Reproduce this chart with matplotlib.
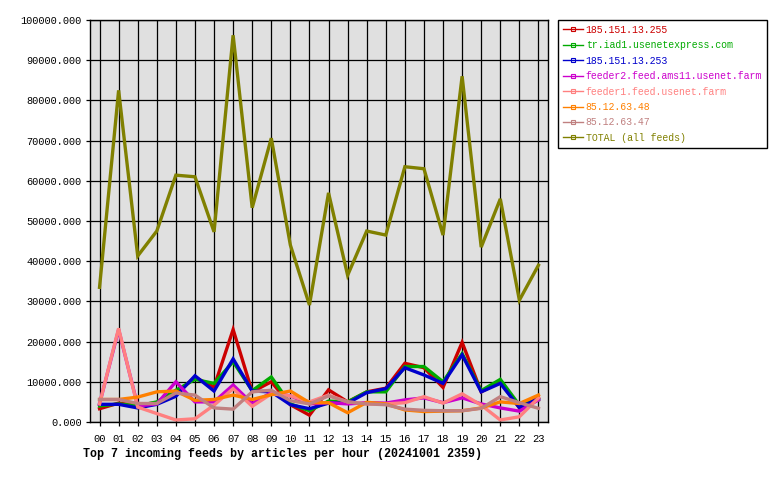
import matplotlib
matplotlib.use("Agg")
import matplotlib.pyplot as plt
import numpy as np

# Datos por hora
hours = ['00', '01', '02', '03', '04', '05', '06', '07', '08', '09', '10', '11',
         '12', '13', '14', '15', '16', '17', '18', '19', '20', '21', '22', '23']

feed_names = ['185.151.13.255', 'tr.iad1.usenetexpress.com', '185.151.13.253',
              'feeder2.feed.ams11.usenet.farm', 'feeder1.feed.usenet.farm',
              '85.12.63.48', '85.12.63.47', 'TOTAL (all feeds)']

feed_255 = [3300, 4700, 4200, 4800, 7100, 11100, 8700, 23000, 7500, 10000, 4300, 1700,
            8000, 5000, 7500, 8400, 14600, 13500, 8600, 19800, 7500, 10000, 3500, 6000]
feed_iad1 = [4000, 4500, 4000, 5000, 7900, 10600, 9600, 15000, 7800, 11200, 4500, 2800,
             5200, 5000, 7500, 7500, 13800, 13800, 10000, 17000, 7800, 10600, 4200, 5500]
feed_253 = [4400, 4400, 3500, 4400, 6400, 11500, 7700, 15700, 7700, 7500, 4300, 3300,
            4700, 4700, 7300, 8300, 13500, 11700, 9600, 16700, 7500, 9600, 3600, 5800]
feed_ams11 = [4500, 23000, 4000, 4500, 10000, 5000, 5000, 9200, 4600, 7300, 6500, 4500,
              4800, 4500, 4800, 4700, 5500, 6000, 4800, 6000, 4500, 3500, 2700, 5500]
feed_farm = [4500, 23300, 3700, 2100, 500, 800, 4200, 8300, 3900, 7000, 6500, 5000,
             6700, 5000, 4500, 4500, 4800, 6300, 4700, 7000, 4200, 500, 1300, 6000]
feed_48 = [5600, 5600, 6200, 7500, 7700, 5400, 5600, 6700, 5600, 6800, 7700, 4800,
           4800, 2300, 4900, 4500, 3000, 2600, 2700, 2800, 3500, 5000, 4600, 6700]
feed_47 = [5600, 5600, 4600, 4600, 7200, 6700, 3500, 3200, 7500, 7900, 5300, 4500,
           6500, 5000, 4500, 4300, 3200, 2900, 2800, 2800, 3400, 6300, 4800, 3400]
total = [33500, 82500, 41300, 47500, 61400, 61000, 47300, 96200, 53300, 70600, 44000, 29100,
         57000, 36500, 47500, 46500, 63500, 63000, 46500, 86000, 43500, 55500, 30300, 39000]

series = [feed_255, feed_iad1, feed_253, feed_ams11, feed_farm, feed_48, feed_47, total]
colors = ['#CC0000', '#00AA00', '#0000CC', '#CC00CC', '#FF8080', '#FF8000', '#C08080', '#808000']

mono = 'Liberation Mono'

fig = plt.figure(figsize=(7.8, 4.8), dpi=100)
ax = fig.add_axes([90 / 780, 58 / 480, 458 / 780, 402 / 480])
ax.set_facecolor('#E0E0E0')

x = np.arange(len(hours))
for vals, c, name in zip(series, colors, feed_names):
    ax.plot(x, vals, color=c, lw=2.4, label=name, solid_joinstyle='miter')

ax.set_xlim(-0.5, 23.5)
ax.set_ylim(0, 100000)
ax.set_xticks(x)
ax.set_xticklabels(hours, fontfamily=mono, fontsize=7.6)
ax.set_yticks(np.arange(0, 100001, 10000))
ax.set_yticklabels(['%.3f' % v for v in np.arange(0, 100001, 10000)],
                   fontfamily=mono, fontsize=7.4)
ax.grid(True, color='black', lw=0.9)
ax.set_axisbelow(True)
ax.tick_params(axis='both', length=3, width=0.9, color='black')
ax.tick_params(axis='x', pad=6)
ax.tick_params(axis='y', pad=3)
for s in ax.spines.values():
    s.set_linewidth(1)
    s.set_color('black')

ax.set_xlabel('Top 7 incoming feeds by articles per hour (20241001 2359)',
              fontfamily=mono, fontweight='bold', fontsize=8.4, loc='left')
ax.xaxis.set_label_coords(-0.015, -0.065)

# Leyenda con marcadores pequeños
handles = [plt.Line2D([0], [0], color=c, lw=1, marker='s', markersize=2.5,
                      markerfacecolor='none', markeredgewidth=0.8) for c in colors]
leg = fig.legend(handles, feed_names, loc='upper left',
                 bbox_to_anchor=(558 / 780, 1 - 20 / 480),
                 prop={'family': mono, 'size': 7.1}, frameon=True, fancybox=False,
                 edgecolor='black', framealpha=1, handlelength=2.0, handletextpad=0.3,
                 labelspacing=0.55, borderpad=0.5, borderaxespad=0)
leg.get_frame().set_linewidth(1)
for t, c in zip(leg.get_texts(), colors):
    t.set_color(c)

fig.savefig('out.png', dpi=100)
